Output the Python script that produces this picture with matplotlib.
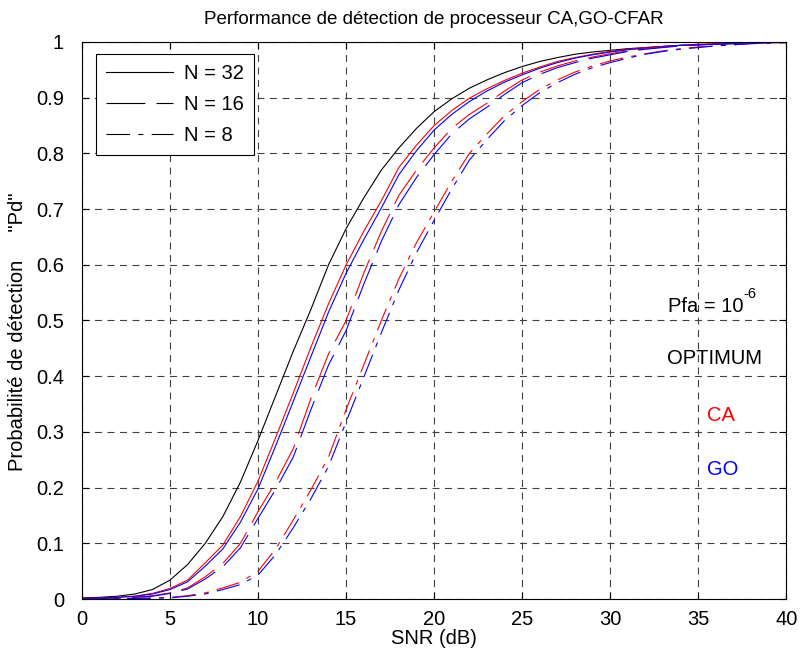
import matplotlib
matplotlib.use("Agg")
import matplotlib.pyplot as plt

plt.rcParams['font.family'] = ['Liberation Sans', 'DejaVu Sans']
plt.rcParams['lines.scale_dashes'] = False

# SNR en dB (pas de 1 dB)
snr = list(range(0, 41))

# Pd
pd_opt = [0.002, 0.003, 0.005, 0.009, 0.017, 0.034, 0.062, 0.100, 0.148, 0.210,
          0.285, 0.365, 0.445, 0.520, 0.600, 0.665, 0.720, 0.770, 0.810, 0.845,
          0.875, 0.898, 0.917, 0.932, 0.945, 0.956, 0.965, 0.972, 0.978, 0.982,
          0.985, 0.988, 0.990, 0.992, 0.994, 0.995, 0.996, 0.997, 0.998, 0.999, 0.999]

pd_ca32 = [0.001, 0.002, 0.003, 0.005, 0.010, 0.019, 0.034, 0.065, 0.097, 0.148,
           0.212, 0.290, 0.370, 0.452, 0.530, 0.600, 0.660, 0.715, 0.775, 0.815,
           0.850, 0.877, 0.899, 0.916, 0.931, 0.944, 0.955, 0.965, 0.972, 0.978,
           0.983, 0.987, 0.990, 0.992, 0.994, 0.996, 0.997, 0.998, 0.998, 0.999, 0.999]

pd_go32 = [0.001, 0.002, 0.003, 0.005, 0.009, 0.017, 0.031, 0.059, 0.090, 0.138,
           0.198, 0.275, 0.355, 0.435, 0.515, 0.585, 0.645, 0.702, 0.762, 0.805,
           0.842, 0.870, 0.893, 0.912, 0.928, 0.941, 0.953, 0.963, 0.971, 0.977,
           0.982, 0.986, 0.989, 0.992, 0.994, 0.995, 0.996, 0.997, 0.998, 0.999, 0.999]

pd_ca16 = [0.0005, 0.001, 0.002, 0.003, 0.006, 0.011, 0.020, 0.040, 0.064, 0.100,
           0.157, 0.210, 0.270, 0.360, 0.440, 0.500, 0.585, 0.660, 0.725, 0.770,
           0.810, 0.845, 0.870, 0.890, 0.912, 0.932, 0.946, 0.957, 0.966, 0.973,
           0.979, 0.984, 0.988, 0.991, 0.993, 0.995, 0.996, 0.997, 0.998, 0.999, 0.999]

pd_go16 = [0.0004, 0.001, 0.002, 0.003, 0.005, 0.010, 0.018, 0.036, 0.058, 0.092,
           0.145, 0.197, 0.255, 0.340, 0.420, 0.482, 0.565, 0.642, 0.708, 0.757,
           0.798, 0.835, 0.862, 0.883, 0.906, 0.927, 0.942, 0.954, 0.963, 0.971,
           0.977, 0.983, 0.987, 0.990, 0.993, 0.995, 0.996, 0.997, 0.998, 0.999, 0.999]

pd_ca8 = [0.0002, 0.0004, 0.0008, 0.0015, 0.002, 0.003, 0.006, 0.011, 0.020, 0.030,
          0.050, 0.090, 0.142, 0.196, 0.255, 0.340, 0.420, 0.500, 0.575, 0.640,
          0.695, 0.750, 0.800, 0.835, 0.868, 0.893, 0.915, 0.932, 0.946, 0.957,
          0.966, 0.973, 0.979, 0.984, 0.988, 0.991, 0.993, 0.995, 0.997, 0.998, 0.999]

pd_go8 = [0.0002, 0.0003, 0.0006, 0.001, 0.0015, 0.002, 0.005, 0.009, 0.017, 0.026,
          0.043, 0.080, 0.128, 0.180, 0.238, 0.318, 0.398, 0.478, 0.555, 0.622,
          0.680, 0.736, 0.788, 0.825, 0.859, 0.886, 0.909, 0.927, 0.942, 0.954,
          0.963, 0.971, 0.978, 0.983, 0.987, 0.990, 0.993, 0.995, 0.997, 0.998, 0.999]

legend_labels = ['N = 32', 'N = 16', 'N = 8']

dash_16 = (28, 8)
dash_8 = (17, 6, 3.5, 6)
lw = 0.8
fs = 14.5

fig = plt.figure(figsize=(8.04, 6.6), dpi=100)
ax = fig.add_axes([0.102, 0.0924, 0.876, 0.8440])

ax.plot(snr, pd_opt, color='black', lw=lw)
ax.plot(snr, pd_ca32, color='red', lw=lw)
ax.plot(snr, pd_go32, color='blue', lw=lw)
ax.plot(snr, pd_ca16, color='red', lw=lw, dashes=dash_16)
ax.plot(snr, pd_go16, color='blue', lw=lw, dashes=dash_16)
ax.plot(snr, pd_ca8, color='red', lw=lw, dashes=dash_8)
ax.plot(snr, pd_go8, color='blue', lw=lw, dashes=dash_8)

# poignées noires pour la légende
h32, = ax.plot([], [], color='black', lw=lw)
h16, = ax.plot([], [], color='black', lw=lw, dashes=dash_16)
h8, = ax.plot([], [], color='black', lw=lw, dashes=dash_8)

ax.set_xlim(0, 40)
ax.set_ylim(0, 1)
ax.set_xticks(range(0, 41, 5))
ax.set_yticks([i / 10 for i in range(11)])
ax.set_yticklabels(['0'] + ['0.%d' % i for i in range(1, 10)] + ['1'])
ax.tick_params(direction='in', top=True, right=True, labelsize=fs, length=5, width=0.8)
ax.tick_params(axis='x', pad=8)
ax.tick_params(axis='y', pad=13)
ax.grid(True, color='#404040', linestyle=(0, (5, 4)), linewidth=0.8)
for s in ax.spines.values():
    s.set_linewidth(0.8)

ax.set_title('Performance de détection de processeur CA,GO-CFAR', fontsize=13.5, pad=13)
ax.set_xlabel('SNR (dB)', fontsize=fs, labelpad=0)
ax.set_ylabel('Probabilité de détection     "Pd"', fontsize=14.5)
ax.yaxis.set_label_coords(-0.078, 0.48)

leg = ax.legend([h32, h16, h8], legend_labels, loc='upper left', fontsize=fs,
                bbox_to_anchor=(0.02, 0.978), borderaxespad=0, fancybox=False,
                framealpha=1, edgecolor='black', handlelength=3.3, handletextpad=0.55,
                borderpad=0.5, labelspacing=0.58)
leg.get_frame().set_linewidth(0.8)

ax.text(33.3, 0.526, 'Pfa = 10', fontsize=fs, va='center')
ax.text(37.55, 0.548, '-6', fontsize=10.5, va='center')
ax.text(33.2, 0.431, 'OPTIMUM', fontsize=fs, va='center')
ax.text(35.5, 0.329, 'CA', fontsize=fs, va='center', color='red')
ax.text(35.5, 0.232, 'GO', fontsize=fs, va='center', color='blue')

fig.savefig('out.png', dpi=100)
